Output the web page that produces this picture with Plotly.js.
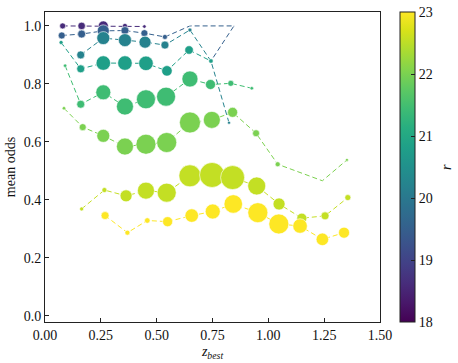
<!DOCTYPE html>
<html><head><meta charset="utf-8">
<script src="https://cdn.plot.ly/plotly-3.0.1.min.js"></script>
<style>body{margin:0;padding:0;background:#fff}#chart{width:458px;height:363px}</style>
</head><body><div id="chart"></div>
<script>
// r-magnitude of each series (colour)
const rValues = [18.6, 19.5, 20.2, 20.8, 21.45, 22.0, 22.55, 23.0];
// z_best values per series
const z1 = [0.079, 0.164, 0.261, 0.358, 0.445];
const z2 = [0.075, 0.164, 0.261, 0.358, 0.445, 0.537, 0.649, 0.846, 0.743];
const z3 = [0.160, 0.261, 0.358, 0.448, 0.537, 0.649, 0.743, 0.824];
const z4 = [0.072, 0.160, 0.261, 0.358, 0.452, 0.546, 0.645, 0.743];
const z5 = [0.090, 0.160, 0.261, 0.358, 0.452, 0.542, 0.649, 0.741, 0.832, 0.926];
const z6 = [0.085, 0.169, 0.261, 0.358, 0.452, 0.545, 0.649, 0.747, 0.840, 0.945, 1.042, 1.242, 1.352];
const z7 = [0.164, 0.266, 0.363, 0.452, 0.545, 0.649, 0.748, 0.840, 0.948, 1.048, 1.150, 1.254, 1.356];
const z8 = [0.269, 0.369, 0.458, 0.549, 0.657, 0.751, 0.843, 0.953, 1.047, 1.142, 1.242, 1.339];
// mean odds per series
const o1 = [1.0, 1.0, 1.0, 1.0, 0.998];
const o2 = [0.967, 0.972, 0.983, 0.984, 0.975, 0.962, 1.0, 1.0, 0.879];
const o3 = [0.900, 0.958, 0.951, 0.944, 0.934, 0.986, 0.879, 0.666];
const o4 = [0.943, 0.852, 0.872, 0.872, 0.871, 0.845, 0.917, 0.879];
const o5 = [0.863, 0.730, 0.771, 0.722, 0.747, 0.756, 0.817, 0.798, 0.802, 0.785];
const o6 = [0.716, 0.651, 0.621, 0.584, 0.592, 0.598, 0.667, 0.676, 0.702, 0.630, 0.523, 0.466, 0.538];
const o7 = [0.369, 0.434, 0.414, 0.432, 0.425, 0.483, 0.486, 0.477, 0.448, 0.386, 0.337, 0.345, 0.408];
const o8 = [0.346, 0.287, 0.329, 0.325, 0.346, 0.360, 0.386, 0.356, 0.317, 0.310, 0.264, 0.287];
// marker sizes (number of objects, shown as diameter)
const n1 = [6, 7.5, 10, 5, 3.5];
const n2 = [7, 8, 12, 8, 7, 5, 1, 1, 3];
const n3 = [8, 13, 13, 12, 8, 4, 4, 3];
const n4 = [4, 8, 14.5, 14.5, 14.5, 10.5, 8.5, 4.5];
const n5 = [3.5, 8, 15, 17, 19, 19, 16, 10, 6, 3.5];
const n6 = [3.5, 7, 13, 17, 20, 20, 21, 17, 10, 7, 5, 0, 3];
const n7 = [4, 5, 12, 17, 19, 22, 25, 24, 18, 12, 10, 8, 6];
const n8 = [8, 5, 5.5, 10, 13.5, 15, 18.5, 20, 20, 14.5, 12.5, 11];
const cbTicks = [18, 19, 20, 21, 22, 23];

const Z = [z1,z2,z3,z4,z5,z6,z7,z8];
const O = [o1,o2,o3,o4,o5,o6,o7,o8];
const N = [n1,n2,n3,n4,n5,n6,n7,n8];

const viridis = ['#440154','#48186a','#472d7b','#424086','#3b528b','#33638d','#2c728e','#26828e','#21918c','#1fa088','#28ae80','#3fbc73','#5ec962','#84d44b','#addc30','#d8e219','#fde725'];
function hex2rgb(h){return [1,3,5].map(i=>parseInt(h.substr(i,2),16));}
function vcolor(r){
  let t=(r-18)/5; t=Math.max(0,Math.min(1,t));
  const p=t*(viridis.length-1); const i=Math.min(Math.floor(p),viridis.length-2); const f=p-i;
  const a=hex2rgb(viridis[i]), b=hex2rgb(viridis[i+1]);
  const c=a.map((v,k)=>Math.round(v+(b[k]-v)*f));
  return 'rgb('+c.join(',')+')';
}
const font='Liberation Serif';
const traces=[];
for(let s=0;s<Z.length;s++){
  traces.push({x:Z[s],y:O[s],type:'scatter',mode:'lines',hoverinfo:'skip',
    line:{color:vcolor(rValues[s]),width:1,dash:'5px,3px'},showlegend:false});
}
for(let s=0;s<Z.length;s++){
  traces.push({x:Z[s],y:O[s],type:'scatter',mode:'markers',showlegend:false,
    marker:{size:N[s],opacity:1,color:Z[s].map(()=>rValues[s]),colorscale:'Viridis',cmin:18,cmax:23,
      line:{color:'white',width:0.6},showscale:s===0,
      colorbar:{x:(400-45)/335,xref:'paper',xanchor:'left',xpad:0,len:1,lenmode:'fraction',y:0.5,yanchor:'middle',ypad:0,
        thickness:15,outlinewidth:1,outlinecolor:'#222',
        tickvals:cbTicks,ticks:'inside',ticklen:4,tickcolor:'#222',
        tickfont:{family:font,size:14,color:'#111'}}}});
}
const layout={width:458,height:363,margin:{l:45,r:78,t:12,b:41},
  paper_bgcolor:'#fff',plot_bgcolor:'#fff',
  xaxis:{range:[0,1.5],tickvals:[0,0.25,0.5,0.75,1.0,1.25,1.5],tickformat:'.2f',ticks:'inside',ticklen:4,
    showgrid:false,zeroline:false,showline:true,mirror:true,linecolor:'#222',linewidth:1,tickcolor:'#222',
    tickfont:{family:font,size:14,color:'#111'},
    title:{text:'<i>z</i><sub><i>best</i></sub>',font:{family:font,size:14,color:'#111'},standoff:4}},
  yaxis:{range:[-0.021,1.048],tickvals:[0,0.2,0.4,0.6,0.8,1.0],tickformat:'.1f',ticks:'inside',ticklen:4,
    showgrid:false,zeroline:false,showline:true,mirror:true,linecolor:'#222',linewidth:1,tickcolor:'#222',
    tickfont:{family:font,size:14,color:'#111'},
    title:{text:'mean odds',font:{family:font,size:14,color:'#111'},standoff:4}},
  annotations:[{text:'<i>r</i>',xref:'paper',yref:'paper',x:(446-45)/335,y:0.5,showarrow:false,textangle:-90,
    font:{family:font,size:14,color:'#111'},xanchor:'center',yanchor:'middle'}]
};
Plotly.newPlot('chart',traces,layout,{displayModeBar:false,staticPlot:true});
</script></body></html>
